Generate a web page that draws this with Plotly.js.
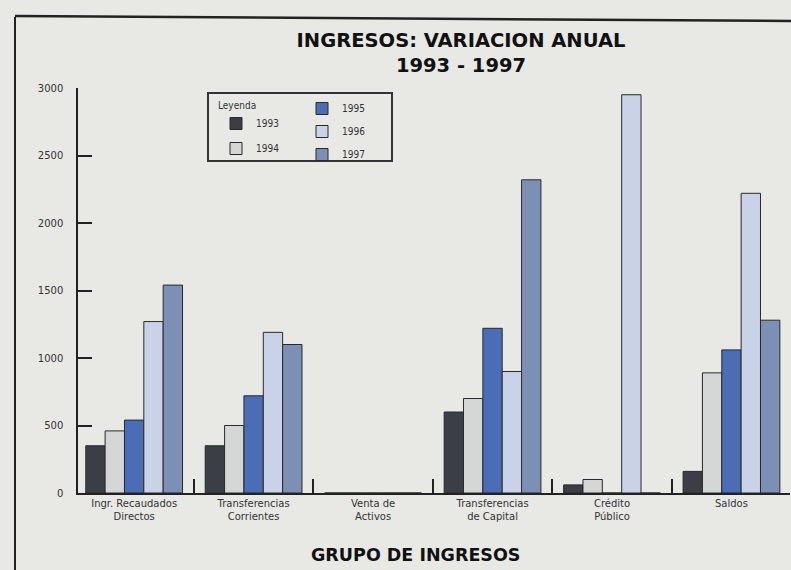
<!DOCTYPE html>
<html>
<head>
<meta charset="utf-8">
<script src="https://cdn.plot.ly/plotly-3.0.1.min.js"></script>
<style>
  html, body { margin: 0; padding: 0; background: #e8e9e5; }
  #chart { width: 791px; height: 570px; }
</style>
</head>
<body>
<div id="chart"></div>
<script>
// ---- data ----
const categories = [
  "Ingr. Recaudados<br>Directos",
  "Transferencias<br>Corrientes",
  "Venta de<br>Activos",
  "Transferencias<br>de Capital",
  "Crédito<br>Público",
  "Saldos"
];
const years = ["1993", "1994", "1995", "1996", "1997"];
const v1993 = [350, 350, 0, 600, 60, 160];
const v1994 = [460, 500, 0, 700, 100, 890];
const v1995 = [540, 720, 0, 1220, 0, 1060];
const v1996 = [1270, 1190, 0, 900, 2950, 2220];
const v1997 = [1540, 1100, 0, 2320, 0, 1280];
const yTickVals = [0, 500, 1000, 1500, 2000, 2500, 3000];

const series = [v1993, v1994, v1995, v1996, v1997];
const colors = ["#3b3e45", "#d3d6d4", "#4a6db5", "#c9d2e6", "#7c8fb5"];
const legendOf = ["legend", "legend", "legend2", "legend2", "legend2"];

const traces = series.map((vals, i) => ({
  type: "bar",
  name: years[i],
  x: categories,
  y: vals,
  legend: legendOf[i],
  legendgroup: "g" + i,
  marker: { color: colors[i], line: { color: "#2a2a2a", width: 1 } },
  hoverinfo: "x+y+name"
}));

const W = 791, H = 570;
const L = 78, R = 1, T = 88, B = 77;
const pw = W - L - R, ph = H - T - B;
const px = x => (x - L) / pw;          // pixel -> paper x
const py = y => (H - B - y) / ph;      // pixel -> paper y

const smallFont = "DejaVu Sans Condensed, DejaVu Sans, sans-serif";
const legendFont = { size: 10, family: smallFont, color: "#333" };
const boldFont = "DejaVu Sans, Verdana, sans-serif";

const layout = {
  width: W, height: H,
  paper_bgcolor: "#e8e9e5",
  plot_bgcolor: "rgba(0,0,0,0)",
  margin: { l: L, r: R, t: T, b: B, autoexpand: false },
  font: { family: smallFont, color: "#2a2a2a" },
  title: {
    text: "INGRESOS: VARIACION ANUAL<br>1993 - 1997",
    font: { family: boldFont, size: 19.5, color: "#111", weight: "bold" },
    xref: "container", x: 461 / W, xanchor: "center",
    yref: "container", y: 1 - 47 / H, yanchor: "top",
    automargin: false
  },
  barmode: "group",
  bargap: 0.19,
  bargroupgap: 0,
  showlegend: true,
  xaxis: {
    type: "category",
    range: [-0.47, 5.49],
    showline: true, linecolor: "#222", linewidth: 1.5,
    ticks: "inside", tickson: "boundaries", ticklen: 14, tickcolor: "#222", tickwidth: 1.5,
    tickangle: 0, automargin: false,
    tickfont: { family: "DejaVu Sans, sans-serif", size: 10, color: "#333" },
    showgrid: false, zeroline: false, fixedrange: true
  },
  yaxis: {
    range: [0, 3000],
    tickvals: yTickVals,
    showline: true, linecolor: "#222", linewidth: 1.5,
    ticks: "inside", ticklen: 14, tickcolor: "#222", tickwidth: 1.5,
    ticklabelstandoff: 11, automargin: false,
    tickfont: { family: "DejaVu Sans, sans-serif", size: 10, color: "#333" },
    showgrid: false, zeroline: false, fixedrange: true
  },
  legend: {
    title: { text: "Leyenda", font: legendFont },
    xref: "container", yref: "container",
    x: 216 / W, y: 1 - 96 / H, xanchor: "left", yanchor: "top",
    bgcolor: "rgba(0,0,0,0)", borderwidth: 0,
    tracegroupgap: 6,
    font: legendFont
  },
  legend2: {
    xref: "container", yref: "container",
    x: 302 / W, y: 1 - 94 / H, xanchor: "left", yanchor: "top",
    bgcolor: "rgba(0,0,0,0)", borderwidth: 0,
    tracegroupgap: 4,
    font: legendFont
  },
  shapes: [
    // legend box
    { type: "rect", xref: "paper", yref: "paper",
      x0: px(208), x1: px(392), y0: py(161), y1: py(93),
      line: { color: "#333", width: 2 }, fillcolor: "rgba(0,0,0,0)", layer: "above" },
    // scanned page frame: left and top border
    { type: "line", xref: "paper", yref: "paper",
      x0: px(15), x1: px(15), y0: py(17), y1: py(572),
      line: { color: "#222", width: 2 } },
    { type: "line", xref: "paper", yref: "paper",
      x0: px(15), x1: px(791), y0: py(16), y1: py(21),
      line: { color: "#222", width: 2.5 } }
  ],
  annotations: [
    { text: "GRUPO DE INGRESOS", xref: "paper", yref: "paper",
      x: px(415), y: py(555), xanchor: "center", yanchor: "middle", showarrow: false,
      font: { family: boldFont, size: 17.5, color: "#111", weight: "bold" } }
  ]
};

Plotly.newPlot("chart", traces, layout, { displayModeBar: false, staticPlot: false });
</script>
</body>
</html>
